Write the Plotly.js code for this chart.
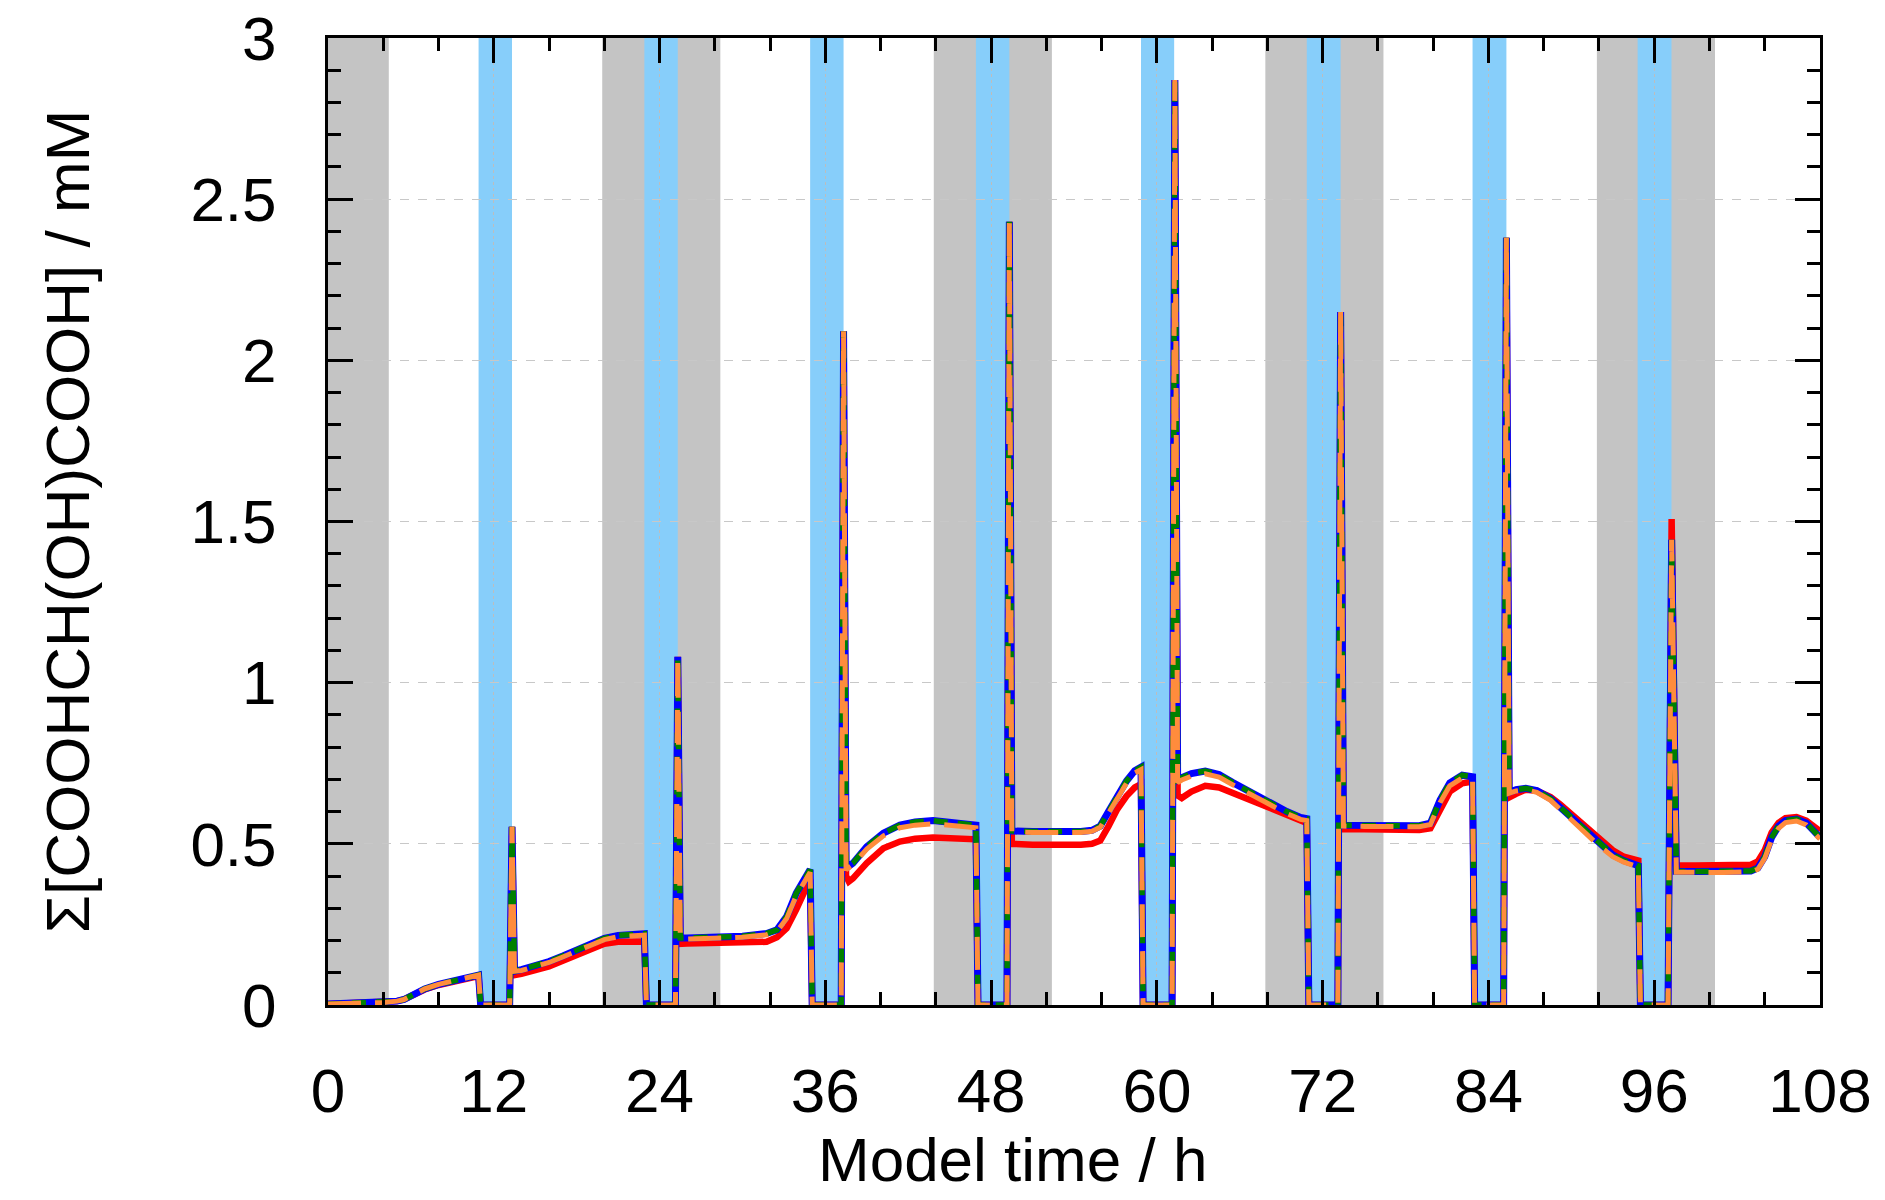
<!DOCTYPE html>
<html>
<head>
<meta charset="utf-8">
<script src="https://cdn.plot.ly/plotly-3.0.1.min.js"></script>
<style>html,body{margin:0;padding:0;background:#fff;}#chart{width:1885px;height:1200px;}</style>
</head>
<body>
<div id="chart"></div>
<script>
// ---- data (model time in h, concentrations in mM) ----
const t = [0,2,4,5,5.5,6,6.5,7,8,9,10,10.9,
  11.05,13.15,13.32,13.5,
  14,15,16,17,18,19,20,21,22,22.9,
  23.05,25.15,25.32,25.5,
  26,28,30,31.75,32.5,33.2,33.9,34.9,
  35.05,37.15,37.32,37.5,
  37.7,38,39,40.2,41.4,42.5,43.8,45,46,46.9,
  47.05,49.15,49.32,49.5,
  51,53,54.5,55.3,55.9,56.5,57.1,57.8,58.4,58.85,
  59.0,61.1,61.3,61.5,
  61.8,62.5,63.5,64.5,65.5,66.7,67.9,69.4,70.4,70.85,
  71.0,73.1,73.3,73.5,
  75,77,79,79.8,80.5,81.2,82.1,82.85,
  83.0,85.1,85.3,85.5,
  86,86.7,87.5,88.5,89.2,90.5,91.9,93,93.8,94.85,
  95.0,97.0,97.26,97.6,
  99,101,103,103.5,104,104.5,105,105.5,106.3,107,108];

const red = [0.003,0.005,0.008,0.012,0.017,0.027,0.038,0.048,0.062,0.072,0.081,0.09,
  0,0,0.553,0.093,
  0.097,0.108,0.12,0.137,0.155,0.174,0.19,0.196,0.197,0.197,
  0,0,1.08,0.19,
  0.191,0.192,0.194,0.196,0.21,0.238,0.297,0.39,
  0,0,2.09,0.40,
  0.383,0.393,0.44,0.486,0.507,0.516,0.52,0.519,0.516,0.514,
  0,0,2.43,0.50,
  0.497,0.496,0.497,0.5,0.51,0.555,0.605,0.648,0.675,0.685,
  0,0,2.87,0.65,
  0.642,0.662,0.68,0.675,0.657,0.637,0.615,0.586,0.568,0.565,
  0,0,2.15,0.546,
  0.545,0.544,0.543,0.548,0.605,0.662,0.688,0.693,
  0,0,2.38,0.644,
  0.655,0.668,0.665,0.645,0.622,0.572,0.52,0.48,0.46,0.448,
  0,0,1.508,0.433,
  0.433,0.433,0.435,0.445,0.48,0.535,0.565,0.58,0.583,0.572,0.54];

const blue = [0.003,0.005,0.008,0.012,0.017,0.028,0.04,0.05,0.064,0.074,0.083,0.093,
  0,0,0.553,0.105,
  0.11,0.122,0.135,0.152,0.17,0.19,0.207,0.216,0.219,0.221,
  0,0,1.08,0.208,
  0.208,0.21,0.213,0.222,0.233,0.274,0.347,0.42,
  0,0,2.09,0.425,
  0.43,0.44,0.491,0.533,0.558,0.568,0.572,0.568,0.563,0.558,
  0,0,2.43,0.54,
  0.538,0.537,0.538,0.542,0.555,0.6,0.646,0.695,0.727,0.738,
  0,0,2.87,0.698,
  0.705,0.718,0.726,0.715,0.69,0.662,0.636,0.60,0.582,0.578,
  0,0,2.15,0.558,
  0.557,0.556,0.556,0.564,0.636,0.689,0.713,0.708,
  0,0,2.38,0.66,
  0.668,0.672,0.665,0.64,0.613,0.56,0.505,0.466,0.448,0.432,
  0,0,1.443,0.415,
  0.414,0.414,0.416,0.425,0.46,0.52,0.555,0.572,0.577,0.565,0.52];

const green = blue.slice();

const orange = [0.003,0.005,0.008,0.012,0.017,0.028,0.04,0.05,0.064,0.074,0.083,0.093,
  0,0,0.553,0.105,
  0.107,0.119,0.132,0.149,0.167,0.186,0.203,0.212,0.215,0.217,
  0,0,1.08,0.205,
  0.205,0.207,0.21,0.218,0.229,0.268,0.34,0.412,
  0,0,2.09,0.42,
  0.425,0.435,0.484,0.525,0.55,0.558,0.562,0.558,0.553,0.55,
  0,0,2.43,0.537,
  0.535,0.534,0.535,0.539,0.551,0.595,0.64,0.688,0.72,0.73,
  0,0,2.87,0.69,
  0.698,0.71,0.717,0.707,0.683,0.656,0.63,0.594,0.576,0.572,
  0,0,2.15,0.555,
  0.554,0.553,0.553,0.56,0.628,0.68,0.704,0.7,
  0,0,2.38,0.657,
  0.664,0.668,0.66,0.635,0.607,0.553,0.498,0.46,0.443,0.428,
  0,0,1.443,0.412,
  0.411,0.411,0.413,0.421,0.455,0.513,0.548,0.566,0.571,0.559,0.515];

// shaded periods (h)
const nightStart = [0, 19.85, 43.85, 67.85, 91.85];
const nightEnd   = [4.4, 28.4, 52.4, 76.4, 100.4];
const cloudStart = [10.9, 22.9, 34.9, 46.9, 58.85, 70.85, 82.85, 94.8];
const cloudEnd   = [13.32, 25.32, 37.32, 49.32, 61.25, 73.3, 85.3, 97.25];

const xTickVals = [0,12,24,36,48,60,72,84,96,108];
const yTickVals = [0,0.5,1,1.5,2,2.5,3];
const yTickText = ['0','0.5','1','1.5','2','2.5','3'];
const xTitle = 'Model time / h';
const yTitle = 'Σ[COOHCH(OH)COOH] / mM';

// ---- build ----
const shapes = [];
nightStart.forEach((s,i)=>shapes.push({type:'rect',xref:'x',yref:'paper',x0:s,x1:nightEnd[i],y0:0,y1:1,
  fillcolor:'#c4c4c4',line:{width:0},layer:'below'}));
cloudStart.forEach((s,i)=>shapes.push({type:'rect',xref:'x',yref:'paper',x0:s,x1:cloudEnd[i],y0:0,y1:1,
  fillcolor:'#87cefa',line:{width:0},layer:'below'}));

const traces = [
  {x:t,y:red,mode:'lines',line:{color:'#ff0000',width:6.5},name:'red'},
  {x:t,y:blue,mode:'lines',line:{color:'#0000ff',width:7},name:'blue'},
  {x:t,y:green,mode:'lines',line:{color:'#008000',width:5.5,dash:'14px,10px'},name:'green'},
  {x:t,y:orange,mode:'lines',line:{color:'#ff8c3c',width:5,dash:'33px,14px'},name:'orange'}
];

const font = {family:'"Liberation Sans", Arial, sans-serif', size:62, color:'#000'};

const layout = {
  width:1885, height:1200,
  margin:{l:328,r:65,t:38,b:195,pad:0},
  paper_bgcolor:'#fff', plot_bgcolor:'#fff',
  showlegend:false,
  font:font,
  shapes:shapes,
  annotations:[{text:xTitle, xref:'paper', yref:'paper', x:0.459, y:-0.160,
    xanchor:'center', yanchor:'middle', showarrow:false, font:font}],
  xaxis:{
    range:[0,108], tickvals:xTickVals, ticktext:xTickVals.map(String),
    ticks:'inside', ticklen:25, tickwidth:3, tickcolor:'#000',
    showline:true, linewidth:3, linecolor:'#000', mirror:'allticks',
    showgrid:true, gridcolor:'#bdbdbd', griddash:'dot', gridwidth:1,
    zeroline:false, tickfont:font, ticklabelstandoff:30,
    minor:{dtick:4, tick0:0, ticks:'inside', ticklen:13, tickwidth:3, tickcolor:'#000', showgrid:false}
  },
  yaxis:{
    range:[0,3], tickvals:yTickVals, ticktext:yTickText,
    ticks:'inside', ticklen:25, tickwidth:3, tickcolor:'#000',
    showline:true, linewidth:3, linecolor:'#000', mirror:'allticks',
    showgrid:true, gridcolor:'#c8c8c8', griddash:'dash', gridwidth:1,
    zeroline:false, tickfont:font, ticklabelstandoff:36,
    minor:{dtick:0.1, tick0:0, ticks:'inside', ticklen:13, tickwidth:3, tickcolor:'#000', showgrid:false},
    title:{text:yTitle, font:font, standoff:81}
  }
};

Plotly.newPlot('chart', traces, layout, {staticPlot:true, displayModeBar:false});
</script>
</body>
</html>
